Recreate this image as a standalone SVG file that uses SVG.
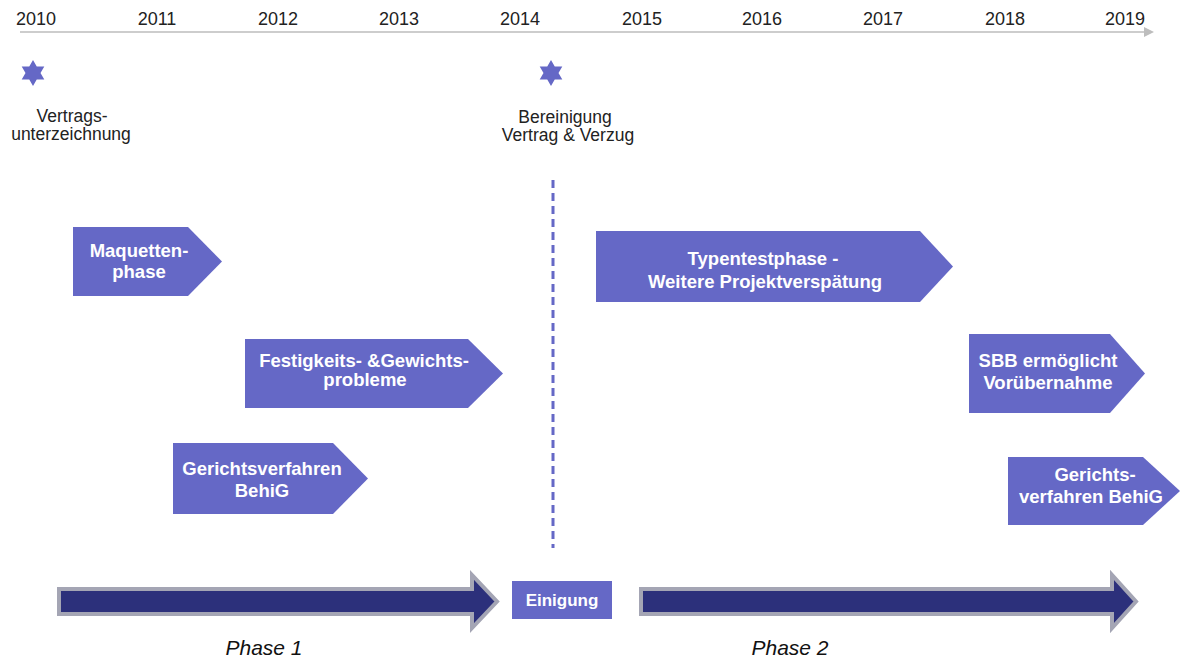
<svg xmlns="http://www.w3.org/2000/svg" width="1187" height="663" viewBox="0 0 1187 663">
<defs>
<style>
.yr{font-family:"Liberation Sans",Arial,sans-serif;font-size:18px;fill:#222;text-anchor:middle}
.lbl{font-family:"Liberation Sans",Arial,sans-serif;font-size:17.5px;fill:#222;text-anchor:middle}
.nt{font-family:"Liberation Sans",Arial,sans-serif;font-size:18.5px;font-weight:bold;fill:#fff;text-anchor:middle}
.ph{font-family:"Liberation Sans",Arial,sans-serif;font-size:21px;font-style:italic;fill:#111;text-anchor:middle}
.pent{fill:#6568C6}
.big{fill:#2C307B;stroke:#A4A5B4;stroke-width:4;stroke-linejoin:miter}
.star{fill:#6568C6}
</style>
<marker id="ah" viewBox="0 0 10 10" refX="1" refY="5" markerWidth="10" markerHeight="10" markerUnits="userSpaceOnUse" orient="auto">
<path d="M0,0 L10,5 L0,10 Z" fill="#BDBDBD"/>
</marker>
</defs>
<rect width="1187" height="663" fill="#fff"/>

<g id="timeline">
<line x1="20" y1="32" x2="1145" y2="32" stroke="#BDBDBD" stroke-width="1.5" marker-end="url(#ah)"/>
<text class="yr" x="36" y="25">2010</text>
<text class="yr" x="157" y="25">2011</text>
<text class="yr" x="278" y="25">2012</text>
<text class="yr" x="399" y="25">2013</text>
<text class="yr" x="520" y="25">2014</text>
<text class="yr" x="642" y="25">2015</text>
<text class="yr" x="762" y="25">2016</text>
<text class="yr" x="883" y="25">2017</text>
<text class="yr" x="1005" y="25">2018</text>
<text class="yr" x="1125" y="25">2019</text>
</g>

<g id="milestone1">
<polygon class="star" points="33,60 36.75,66.5 44.3,66.5 40.5,73 44.3,79.5 36.75,79.5 33,86 29.25,79.5 21.7,79.5 25.5,73 21.7,66.5 29.25,66.5"/>
<text class="lbl" x="72" y="122">Vertrags-</text>
<text class="lbl" x="71" y="140">unterzeichnung</text>
</g>

<g id="milestone2">
<polygon class="star" points="551,60 554.75,66.5 562.3,66.5 558.5,73 562.3,79.5 554.75,79.5 551,86 547.25,79.5 539.7,79.5 543.5,73 539.7,66.5 547.25,66.5"/>
<text class="lbl" x="565" y="123">Bereinigung</text>
<text class="lbl" x="568" y="141">Vertrag &amp; Verzug</text>
</g>

<g id="connectors">
<line x1="553" y1="180" x2="553" y2="548" stroke="#6568C6" stroke-width="3" stroke-dasharray="8 5"/>
</g>

<g id="maquetten">
<polygon class="pent" points="73,227 188,227 222,261.5 188,296 73,296"/>
<text class="nt" x="139" y="257">Maquetten-</text>
<text class="nt" x="139" y="278">phase</text>
</g>

<g id="festigkeit">
<polygon class="pent" points="245,339 468,339 503,373.5 468,408 245,408"/>
<text class="nt" x="364" y="367">Festigkeits- &amp;Gewichts-</text>
<text class="nt" x="365" y="386">probleme</text>
</g>

<g id="gericht1">
<polygon class="pent" points="173,443 333,443 368,478.5 333,514 173,514"/>
<text class="nt" x="262" y="475">Gerichtsverfahren</text>
<text class="nt" x="262" y="497">BehiG</text>
</g>

<g id="typentest">
<polygon class="pent" points="596,231 920,231 953,266.5 920,302 596,302"/>
<text class="nt" x="763" y="265">Typentestphase -</text>
<text class="nt" x="765" y="288">Weitere Projektverspätung</text>
</g>

<g id="sbb">
<polygon class="pent" points="969,334 1110,334 1145,373.5 1110,413 969,413"/>
<text class="nt" x="1048" y="367">SBB ermöglicht</text>
<text class="nt" x="1048" y="389">Vorübernahme</text>
</g>

<g id="gericht2">
<polygon class="pent" points="1008,457 1143,457 1180,491 1143,525 1008,525"/>
<text class="nt" x="1095" y="481">Gerichts-</text>
<text class="nt" x="1091" y="503">verfahren BehiG</text>
</g>

<g id="phase1">
<path class="big" d="M59,589 L472,589 L472,575 L497,601.5 L472,628 L472,614 L59,614 Z"/>
<text class="ph" x="264" y="655">Phase 1</text>
</g>

<g id="einigung">
<rect x="512" y="581" width="100" height="38" fill="#6568C6"/>
<text class="nt" x="562" y="606" style="font-size:17px">Einigung</text>
</g>

<g id="phase2">
<path class="big" d="M641,589 L1112,589 L1112,575 L1136,601.5 L1112,628 L1112,614 L641,614 Z"/>
<text class="ph" x="790" y="655">Phase 2</text>
</g>
</svg>
